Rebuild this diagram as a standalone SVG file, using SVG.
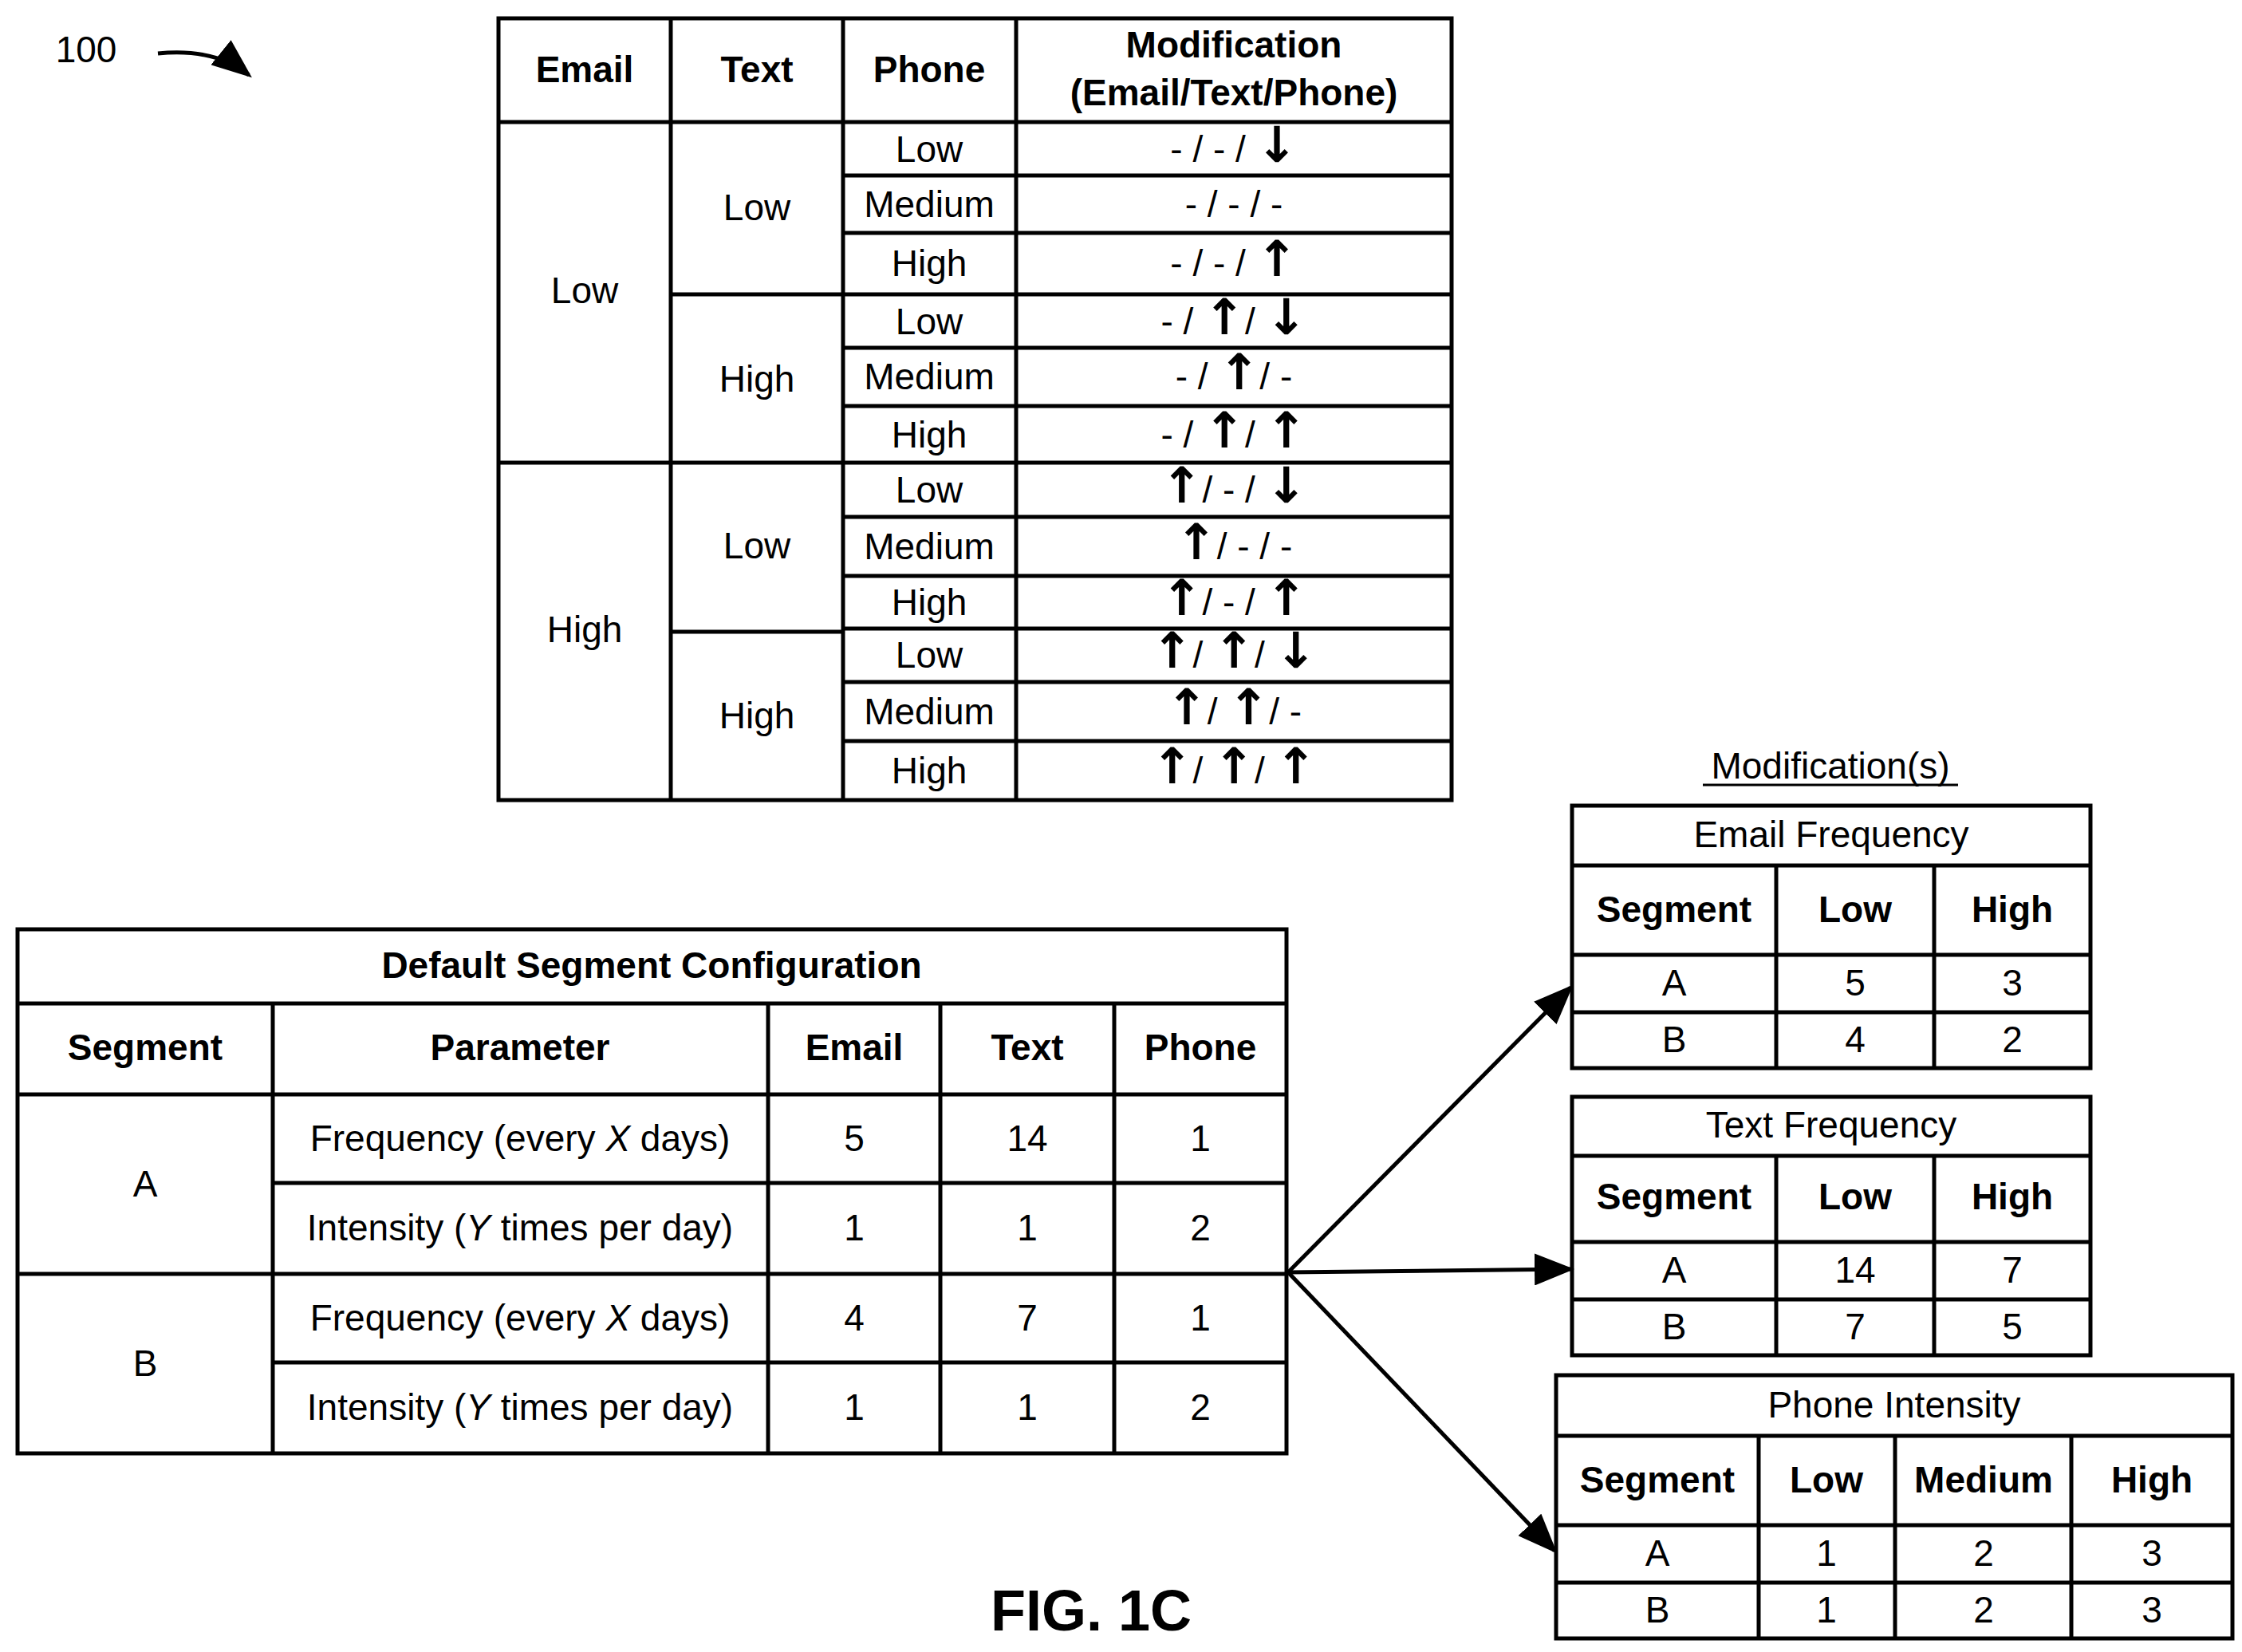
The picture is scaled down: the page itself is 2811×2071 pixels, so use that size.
<svg xmlns="http://www.w3.org/2000/svg" width="2811" height="2071" viewBox="0 0 2811 2071">
<style>
.t{font-family:"Liberation Sans",Arial,sans-serif;font-size:46px;fill:#000;text-anchor:middle}
.b{font-weight:bold}
.ln{stroke:#000;stroke-width:5;fill:none}
.ar{font-family:"DejaVu Sans",sans-serif;font-weight:bold;font-size:62px}
</style>
<defs><marker id="ah" markerWidth="10" markerHeight="8" refX="9" refY="4" orient="auto" markerUnits="strokeWidth"><path d="M0,0 L10,4 L0,8 z" fill="#000"/></marker></defs>
<rect width="2811" height="2071" fill="#fff"/>
<g id="label100">
<text class="t" x="108" y="78">100</text>
<path d="M198,67 Q270,60 312,94" class="ln" stroke-width="4" marker-end="url(#ah)"/>
</g>
<g id="topTable">
<rect x="625" y="23" width="1195" height="980" class="ln"/>
<path class="ln" d="M841,23V1003M1057,23V1003M1274,23V1003M625,153H1820M625,580H1820M1057,220H1820M1057,292H1820M1057,369H1820M1057,436H1820M1057,509H1820M1057,648H1820M1057,722H1820M1057,788H1820M1057,855H1820M1057,929H1820M841,369H1057M841,792H1057"/>
<text class="t b" x="733" y="103">Email</text>
<text class="t b" x="949" y="103">Text</text>
<text class="t b" x="1165" y="103">Phone</text>
<text class="t b" x="1547" y="72">Modification</text>
<text class="t b" x="1547" y="132">(Email/Text/Phone)</text>
<text class="t" x="733" y="380">Low</text>
<text class="t" x="733" y="805">High</text>
<text class="t" x="949" y="276">Low</text>
<text class="t" x="949" y="491">High</text>
<text class="t" x="949" y="700">Low</text>
<text class="t" x="949" y="913">High</text>
<g class="t">
<text x="1165" y="203">Low</text><text x="1165" y="272">Medium</text><text x="1165" y="346">High</text>
<text x="1165" y="419">Low</text><text x="1165" y="488">Medium</text><text x="1165" y="561">High</text>
<text x="1165" y="630">Low</text><text x="1165" y="701">Medium</text><text x="1165" y="771">High</text>
<text x="1165" y="837">Low</text><text x="1165" y="908">Medium</text><text x="1165" y="982">High</text>
</g>
<g class="t">
<text x="1547" y="203">- / - / <tspan class="ar">↓</tspan></text>
<text x="1547" y="272">- / - / -</text>
<text x="1547" y="346">- / - / <tspan class="ar">↑</tspan></text>
<text x="1547" y="419">- / <tspan class="ar">↑</tspan>/ <tspan class="ar">↓</tspan></text>
<text x="1547" y="488">- / <tspan class="ar">↑</tspan>/ -</text>
<text x="1547" y="561">- / <tspan class="ar">↑</tspan>/ <tspan class="ar">↑</tspan></text>
<text x="1547" y="630"><tspan class="ar">↑</tspan>/ - / <tspan class="ar">↓</tspan></text>
<text x="1547" y="701"><tspan class="ar">↑</tspan>/ - / -</text>
<text x="1547" y="771"><tspan class="ar">↑</tspan>/ - / <tspan class="ar">↑</tspan></text>
<text x="1547" y="837"><tspan class="ar">↑</tspan>/ <tspan class="ar">↑</tspan>/ <tspan class="ar">↓</tspan></text>
<text x="1547" y="908"><tspan class="ar">↑</tspan>/ <tspan class="ar">↑</tspan>/ -</text>
<text x="1547" y="982"><tspan class="ar">↑</tspan>/ <tspan class="ar">↑</tspan>/ <tspan class="ar">↑</tspan></text>
</g>
</g>
<g id="defaultTable">
<rect x="22" y="1165" width="1591" height="657" class="ln"/>
<path class="ln" d="M22,1258H1613M22,1372H1613M342,1483H1613M22,1597H1613M342,1708H1613M342,1258V1822M963,1258V1822M1179,1258V1822M1397,1258V1822"/>
<text class="t b" x="817" y="1226">Default Segment Configuration</text>
<text class="t b" x="182" y="1329">Segment</text>
<text class="t b" x="652" y="1329">Parameter</text>
<text class="t b" x="1071" y="1329">Email</text>
<text class="t b" x="1288" y="1329">Text</text>
<text class="t b" x="1505" y="1329">Phone</text>
<text class="t" x="182" y="1500">A</text>
<text class="t" x="182" y="1725">B</text>
<text class="t" x="652" y="1443">Frequency (every <tspan font-style="italic">X</tspan> days)</text>
<text class="t" x="652" y="1555">Intensity (<tspan font-style="italic">Y</tspan> times per day)</text>
<text class="t" x="652" y="1668">Frequency (every <tspan font-style="italic">X</tspan> days)</text>
<text class="t" x="652" y="1780">Intensity (<tspan font-style="italic">Y</tspan> times per day)</text>
<g class="t">
<text x="1071" y="1443">5</text><text x="1288" y="1443">14</text><text x="1505" y="1443">1</text>
<text x="1071" y="1555">1</text><text x="1288" y="1555">1</text><text x="1505" y="1555">2</text>
<text x="1071" y="1668">4</text><text x="1288" y="1668">7</text><text x="1505" y="1668">1</text>
<text x="1071" y="1780">1</text><text x="1288" y="1780">1</text><text x="1505" y="1780">2</text>
</g>
</g>
<g id="connectors">
<path class="ln" stroke-width="4" d="M1615,1595L1969,1238" marker-end="url(#ah)"/>
<path class="ln" stroke-width="4" d="M1615,1595L1969,1591" marker-end="url(#ah)"/>
<path class="ln" stroke-width="4" d="M1615,1595L1949,1944" marker-end="url(#ah)"/>
</g>
<g id="modTitle">
<text class="t" x="2295" y="976">Modification(s)</text>
<path d="M2135,984H2455" stroke="#000" stroke-width="3"/>
</g>
<g id="emailFreq">
<rect x="1971" y="1010" width="650" height="329" class="ln"/>
<path class="ln" d="M1971,1085H2621M1971,1197H2621M1971,1269H2621M2227,1085V1339M2425,1085V1339"/>
<text class="t" x="2296" y="1062">Email Frequency</text>
<text class="t b" x="2099" y="1156">Segment</text><text class="t b" x="2326" y="1156">Low</text><text class="t b" x="2523" y="1156">High</text>
<text class="t" x="2099" y="1248">A</text><text class="t" x="2326" y="1248">5</text><text class="t" x="2523" y="1248">3</text>
<text class="t" x="2099" y="1319">B</text><text class="t" x="2326" y="1319">4</text><text class="t" x="2523" y="1319">2</text>
</g>
<g id="textFreq">
<rect x="1971" y="1375" width="650" height="324" class="ln"/>
<path class="ln" d="M1971,1449H2621M1971,1557H2621M1971,1629H2621M2227,1449V1699M2425,1449V1699"/>
<text class="t" x="2296" y="1426">Text Frequency</text>
<text class="t b" x="2099" y="1516">Segment</text><text class="t b" x="2326" y="1516">Low</text><text class="t b" x="2523" y="1516">High</text>
<text class="t" x="2099" y="1608">A</text><text class="t" x="2326" y="1608">14</text><text class="t" x="2523" y="1608">7</text>
<text class="t" x="2099" y="1679">B</text><text class="t" x="2326" y="1679">7</text><text class="t" x="2523" y="1679">5</text>
</g>
<g id="phoneInt">
<rect x="1951" y="1724" width="848" height="330" class="ln"/>
<path class="ln" d="M1951,1800H2799M1951,1912H2799M1951,1984H2799M2205,1800V2054M2376,1800V2054M2597,1800V2054"/>
<text class="t" x="2375" y="1777">Phone Intensity</text>
<text class="t b" x="2078" y="1871">Segment</text><text class="t b" x="2290" y="1871">Low</text><text class="t b" x="2487" y="1871">Medium</text><text class="t b" x="2698" y="1871">High</text>
<text class="t" x="2078" y="1963">A</text><text class="t" x="2290" y="1963">1</text><text class="t" x="2487" y="1963">2</text><text class="t" x="2698" y="1963">3</text>
<text class="t" x="2078" y="2034">B</text><text class="t" x="2290" y="2034">1</text><text class="t" x="2487" y="2034">2</text><text class="t" x="2698" y="2034">3</text>
</g>
<text class="t b" x="1368" y="2044" style="font-size:72px">FIG. 1C</text>
</svg>
